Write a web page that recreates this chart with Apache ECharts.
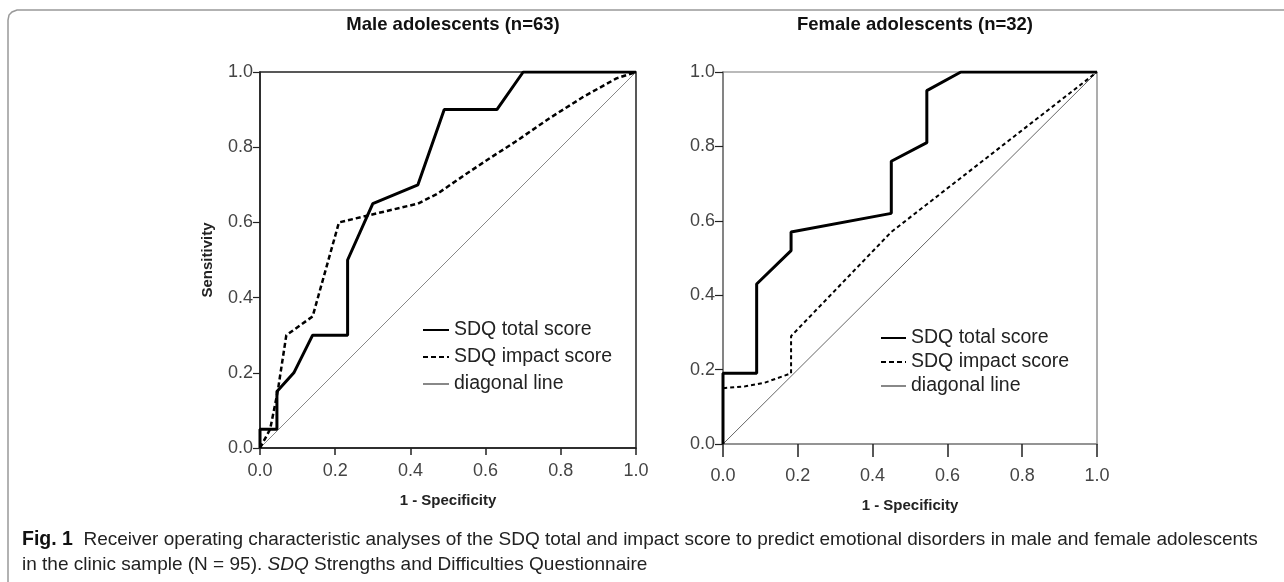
<!DOCTYPE html>
<html>
<head>
<meta charset="utf-8">
<script src="https://cdn.jsdelivr.net/npm/echarts@6/dist/echarts.min.js"></script>
<style>
html,body{margin:0;padding:0;background:#fff;}
#c{width:1284px;height:582px;}
</style>
</head>
<body>
<div id="c"></div>
<script>
// ---- data ----
const titles = ['Male adolescents (n=63)', 'Female adolescents (n=32)'];
const seriesNames = ['SDQ total score', 'SDQ impact score', 'diagonal line'];
const tickValues = [0, 0.2, 0.4, 0.6, 0.8, 1.0];
const xAxisName = '1 - Specificity';
const yAxisName = 'Sensitivity';

const maleTotal = [[0,0],[0,0.05],[0.045,0.05],[0.045,0.15],[0.09,0.2],[0.14,0.3],[0.233,0.3],[0.233,0.5],[0.30,0.65],[0.42,0.70],[0.49,0.90],[0.63,0.90],[0.70,1.0],[1,1]];
const maleImpact = [[0,0],[0.027,0.05],[0.047,0.15],[0.07,0.30],[0.14,0.35],[0.21,0.60],[0.42,0.65],[0.47,0.675],[0.55,0.73],[0.61,0.77],[0.68,0.815],[0.77,0.877],[0.86,0.934],[0.948,0.983],[1,1]];
const femaleTotal = [[0,0],[0,0.19],[0.09,0.19],[0.09,0.43],[0.182,0.52],[0.182,0.57],[0.45,0.62],[0.45,0.76],[0.545,0.81],[0.545,0.95],[0.636,1.0],[1,1]];
const femaleImpact = [[0,0],[0,0.15],[0.06,0.155],[0.112,0.165],[0.182,0.19],[0.182,0.29],[0.45,0.57],[1,1]];
const diagonal = [[0,0],[1,1]];

const captionLine1 = 'Receiver operating characteristic analyses of the SDQ total and impact score to predict emotional disorders in male and female adolescents';
const captionLine2a = 'in the clinic sample (N = 95). ';
const captionLine2b = 'SDQ';
const captionLine2c = ' Strengths and Difficulties Questionnaire';

// ---- chart ----
const chart = echarts.init(document.getElementById('c'));
const grids = [
  {left: 260, top: 72, width: 376, height: 376},
  {left: 723, top: 72, width: 374, height: 372}
];
const FF = 'Liberation Sans, Arial, sans-serif';
const tickFont = {fontFamily: FF, fontSize: 18, color: '#444'};
const nameFont = {fontFamily: FF, fontSize: 15, fontWeight: 'bold', color: '#222'};

function mkX(i, col, tickLen, margin, nameGap){
  return {
    gridIndex: i, type: 'value', min: 0, max: 1, interval: 0.2,
    axisLine: {show: true, lineStyle: {color: col, width: 1.5}},
    axisTick: {show: true, length: tickLen, lineStyle: {color: '#222', width: 1.5}},
    splitLine: {show: false},
    axisLabel: Object.assign({formatter: v => v.toFixed(1), margin: margin}, tickFont),
    name: xAxisName, nameLocation: 'middle', nameGap: nameGap, nameTextStyle: nameFont
  };
}
function mkY(i, col, tickLen){
  return {
    gridIndex: i, type: 'value', min: 0, max: 1, interval: 0.2,
    axisLine: {show: true, lineStyle: {color: col, width: 1.5}},
    axisTick: {show: true, length: tickLen, lineStyle: {color: '#222', width: 1.2}},
    splitLine: {show: false},
    axisLabel: Object.assign({formatter: v => v.toFixed(1), margin: tickLen}, tickFont),
    name: i === 0 ? yAxisName : '', nameLocation: 'middle', nameGap: 45, nameTextStyle: nameFont
  };
}

function series(i, data, name, style){
  return {type: 'line', name: name, xAxisIndex: i, yAxisIndex: i, data: data,
    symbol: 'none', lineStyle: style, itemStyle: {color: style.color}, z: style.z || 2, animation: false};
}

const total0 = {color: '#000', width: 3};
const impact0 = {color: '#000', width: 2.5, type: [5, 3]};
const diag0 = {color: '#888', width: 1, z: 1};
const total1 = {color: '#000', width: 3};
const impact1 = {color: '#000', width: 2, type: [4, 3]};
const diag1 = {color: '#666', width: 1, z: 1};

const legendText = {fontFamily: FF, fontSize: 19.5, color: '#222'};
const titleStyle = {fontFamily: FF, fontSize: 18.5, fontWeight: 'bold', color: '#111'};
const legendHide = {color: 'rgba(0,0,0,0)', borderWidth: 0, opacity: 0};

chart.setOption({
  backgroundColor: '#fff',
  animation: false,
  title: [
    {text: titles[0], left: 448, top: 10, textAlign: 'center', textStyle: titleStyle},
    {text: titles[1], left: 910, top: 10, textAlign: 'center', textStyle: titleStyle}
  ],
  grid: [
    Object.assign({show: true, borderColor: '#222', borderWidth: 1.5, backgroundColor: 'transparent'}, grids[0]),
    Object.assign({show: true, borderColor: '#777', borderWidth: 1.2, backgroundColor: 'transparent'}, grids[1])
  ],
  xAxis: [mkX(0, '#222', 7, 14, 45), mkX(1, '#888', 13, 23, 54)],
  yAxis: [mkY(0, '#222', 7), mkY(1, '#777', 8)],
  legend: [
    {data: seriesNames, orient: 'vertical', left: 422, top: 320, padding: 0, itemWidth: 26, itemHeight: 12, itemGap: 7,
     textStyle: legendText, selectedMode: false, itemStyle: legendHide},
    {data: seriesNames, orient: 'vertical', left: 880, top: 328, padding: 0, itemWidth: 25, itemHeight: 12, itemGap: 4,
     textStyle: legendText, selectedMode: false, itemStyle: legendHide}
  ],
  series: [
    series(0, maleTotal, seriesNames[0], total0),
    series(0, maleImpact, seriesNames[1], impact0),
    series(0, diagonal, seriesNames[2], diag0),
    series(1, femaleTotal, seriesNames[0], total1),
    series(1, femaleImpact, seriesNames[1], impact1),
    series(1, diagonal, seriesNames[2], diag1)
  ],
  graphic: [
    {type: 'polyline', shape: {points: [[8,582],[8,20],[9,15],[12,12],[17,10],[1284,10]]},
     style: {fill: null, stroke: '#999', lineWidth: 1.5}, silent: true},
    {type: 'text', left: 22, top: 530,
     style: {text: '{b|Fig. 1}  ' + captionLine1,
       rich: {b: {fontWeight: 'bold', fontSize: 19.5, fontFamily: FF, fill: '#111'}},
       fontFamily: FF, fontSize: 19, fill: '#222'}},
    {type: 'text', left: 22, top: 555,
     style: {text: captionLine2a + '{i|' + captionLine2b + '}' + captionLine2c,
       rich: {i: {fontStyle: 'italic', fontSize: 19, fontFamily: FF, fill: '#222'}},
       fontFamily: FF, fontSize: 19, fill: '#222'}}
  ]
});
</script>
</body>
</html>
